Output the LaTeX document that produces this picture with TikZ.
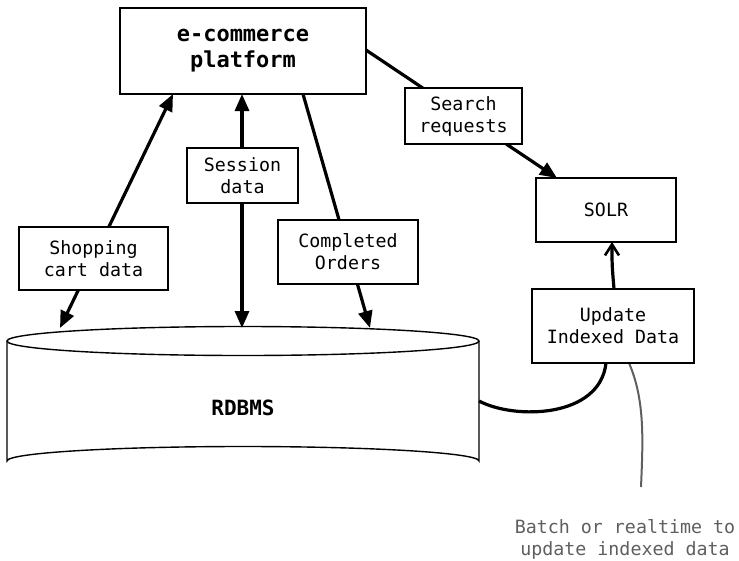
\documentclass[tikz,border=0pt]{standalone}
\usepackage{fontspec}
\setmainfont{DejaVu Sans Mono}
\usetikzlibrary{arrows.meta}
\tikzset{
  lbl/.style={draw=black, line width=1.4pt, fill=white, align=center, inner sep=0pt,
    font=\fontsize{18.3}{22}\selectfont},
  flow/.style={line width=3.2pt},
}
\begin{document}
\begin{tikzpicture}[x=1pt,y=-1pt]
\useasboundingbox (0,0) rectangle (739,560);
% cylinder (RDBMS)
\draw[line width=1.4pt, fill=white] (7,341) -- (7,461) arc[start angle=180,end angle=360,x radius=236,y radius=14.5] -- (479,341);
\draw[line width=1.4pt, fill=white] (243,341) ellipse[x radius=236,y radius=14.5];
\node[font=\fontsize{21}{25}\selectfont\bfseries] (db) at (243,408) {RDBMS};
\coordinate (dbA) at (60,328);
\coordinate (dbB) at (242,328);
\coordinate (dbC) at (370,328);
\coordinate (dbR) at (479,401);
% anchors
\coordinate (pA) at (173,94);
\coordinate (pB) at (242,94);
\coordinate (pC) at (303,94);
\coordinate (pD) at (366,50);
\coordinate (sT) at (557,178);
\coordinate (sB) at (612,242);
\coordinate (uT) at (614,289);
\coordinate (uB1) at (606,363);
\coordinate (uB2) at (629,363);
\coordinate (gEnd) at (641,487);
% connectors
\draw[flow, {Triangle[length=17pt,width=14pt]}-{Triangle[length=17pt,width=14pt]}] (dbA) -- (pA);
\draw[flow, {Triangle[length=17pt,width=14pt]}-{Triangle[length=17pt,width=14pt]}] (dbB) -- (pB);
\draw[flow, -{Triangle[length=17pt,width=14pt]}] (pC) -- (dbC);
\draw[flow, -{Triangle[length=17pt,width=14pt]}] (pD) -- (sT);
\draw[flow, -{Straight Barb[length=11pt,width=14pt,line width=2.6pt]}] (uT) .. controls (612,265) .. (sB);
\draw[flow] (dbR) .. controls (515,420) and (600,418) .. (uB1);
\draw[line width=2pt, draw={rgb,255:red,95;green,95;blue,95}] (uB2) .. controls (645,400) and (643,440) .. (gEnd);
% boxes
\node[lbl, minimum width=246pt, minimum height=86pt, font=\fontsize{22}{26}\selectfont\bfseries] (plat) at (243,51) {e-commerce\\platform};
\node[lbl, minimum width=111pt, minimum height=55pt] (sess) at (242.5,175.5) {Session\\data};
\node[lbl, minimum width=149pt, minimum height=63pt] (shop) at (93.5,258.5) {Shopping\\cart data};
\node[lbl, minimum width=140pt, minimum height=64pt] (comp) at (348,252) {Completed\\Orders};
\node[lbl, minimum width=117pt, minimum height=56pt] (srch) at (463.5,116) {Search\\requests};
\node[lbl, minimum width=140pt, minimum height=64pt] (solr) at (606,210) {SOLR};
\node[lbl, minimum width=162pt, minimum height=74pt] (upd) at (613,326) {Update\\Indexed Data};
\node[align=center, text={rgb,255:red,95;green,95;blue,95}, font=\fontsize{18.3}{22}\selectfont, inner sep=0pt] (note) at (625,539) {Batch or realtime to\\update indexed data};
\end{tikzpicture}
\end{document}
